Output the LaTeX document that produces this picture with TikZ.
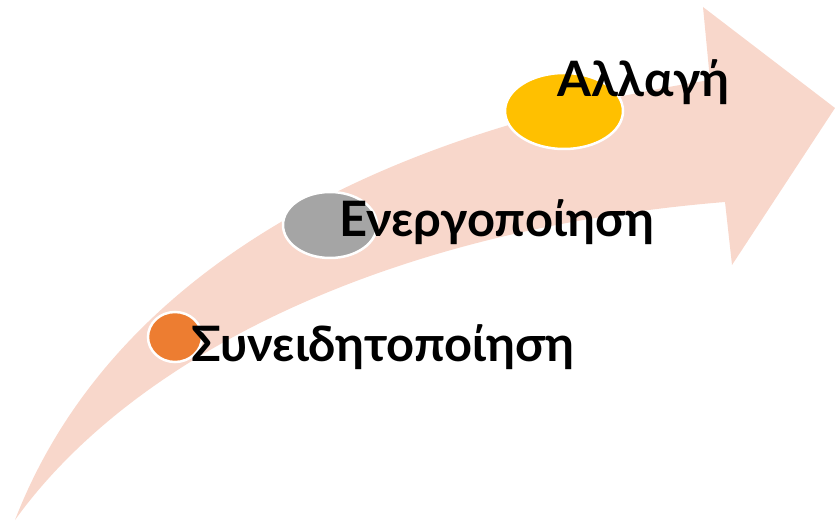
\documentclass[tikz,border=0pt]{standalone}
\usepackage{fontspec}
\usepackage[svgnames]{xcolor}
\newfontfamily\stepfont{Lato}
\definecolor{arrowpeach}{RGB}{248,215,203}
\definecolor{stageorange}{RGB}{237,125,49}
\definecolor{stagegray}{RGB}{165,165,165}
\definecolor{stagegold}{RGB}{255,192,0}
\tikzset{
  stage/.style={ellipse, draw=white, line width=2.5pt, inner sep=0pt},
  stagetext/.style={anchor=base west, inner sep=0pt, font=\stepfont\bfseries\fontsize{49}{49}\selectfont}
}
\usetikzlibrary{shapes.geometric}
\begin{document}
\begin{tikzpicture}[x=1bp, y=-1bp]
\useasboundingbox (0,0) rectangle (835,525);
% curved arrow
\fill[arrowpeach] (15,520) .. controls (100,300) and (330,140) .. (710,80)
  -- (703,7) -- (835,108) -- (732,265) -- (725,202)
  .. controls (380,230) and (130,360) .. (15,520) -- cycle;
% stages
\node[stage, fill=stageorange, minimum width=54bp, minimum height=50bp] (aware) at (175,337) {};
\node[stage, fill=stagegray, minimum width=94bp, minimum height=66bp] (activate) at (330,225) {};
\node[stage, fill=stagegold, minimum width=118bp, minimum height=76bp] (change) at (564,111) {};
\node[stagetext] (awaretext) at (191,361) {Συνειδητοποίηση};
\node[stagetext] (activatetext) at (339,237) {Ενεργοποίηση};
\node[stagetext] (changetext) at (557,97) {Αλλαγή};
\end{tikzpicture}
\end{document}
